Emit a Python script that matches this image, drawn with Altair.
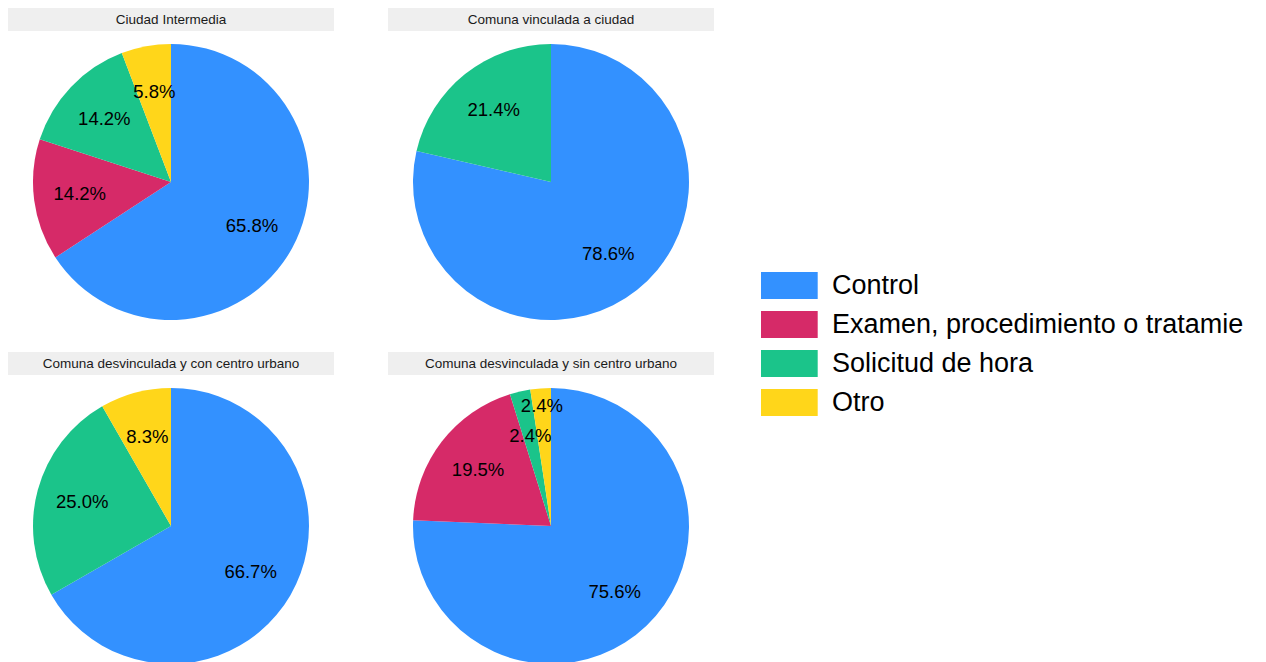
import altair as alt
import pandas as pd

groups = ["Ciudad Intermedia", "Comuna vinculada a ciudad",
          "Comuna desvinculada y con centro urbano", "Comuna desvinculada y sin centro urbano"]
categories = ["Control", "Examen, procedimiento o tratamie", "Solicitud de hora", "Otro"]
colors = ["#3391FF", "#D62A68", "#1BC48A", "#FFD61A"]

ciudad_intermedia = [65.8, 14.2, 14.2, 5.8]
comuna_vinculada = [78.6, 0.0, 21.4, 0.0]
desv_con_centro = [66.7, 0.0, 25.0, 8.3]
desv_sin_centro = [75.6, 19.5, 2.4, 2.4]

series = [ciudad_intermedia, comuna_vinculada, desv_con_centro, desv_sin_centro]
rows = []
for g, vals in zip(groups, series):
    for i, (c, v) in enumerate(zip(categories, vals)):
        if v > 0:
            rows.append({"grupo": g, "categoria": c, "valor": v, "orden": i,
                         "etiqueta": f"{v:.1f}%"})
df = pd.DataFrame(rows)
titles = pd.DataFrame({"grupo": groups})

W, H = 326, 330
CX, CY = 163, 174
R = 138

color = alt.Color("categoria:N", scale=alt.Scale(domain=categories, range=colors),
                  sort=categories,
                  legend=alt.Legend(title=None, orient="none", legendX=753, legendY=264,
                                    symbolType="M-1,-1H3.2V1H-1Z", symbolSize=729,
                                    symbolStrokeWidth=0, symbolOpacity=1,
                                    labelFontSize=27, labelFont="Liberation Sans",
                                    labelColor="#000000", labelOffset=44, rowPadding=11,
                                    labelLimit=600, padding=0))


def panel(name):
    strip = alt.Chart(titles).transform_filter(alt.datum.grupo == name).mark_rect(
        color="#EFEFEF").encode(x=alt.value(0), x2=alt.value(W), y=alt.value(0), y2=alt.value(23))
    ttl = alt.Chart(titles).transform_filter(alt.datum.grupo == name).mark_text(
        font="Liberation Sans", fontSize=13.5, color="#1A1A1A", baseline="middle").encode(
        x=alt.value(CX), y=alt.value(12), text="grupo:N")
    base = alt.Chart(df).transform_filter(alt.datum.grupo == name)
    arc = base.mark_arc(outerRadius=R).encode(
        theta=alt.Theta("valor:Q", stack=True),
        color=color,
        order=alt.Order("orden:Q"),
        x=alt.value(CX), y=alt.value(CY))
    txt = base.mark_text(radius=92, font="Liberation Sans", fontSize=18.5, color="#000000").encode(
        theta=alt.Theta("valor:Q", stack=True),
        order=alt.Order("orden:Q"),
        text="etiqueta:N",
        x=alt.value(CX), y=alt.value(CY),
        opacity=alt.condition((alt.datum.categoria == "Otro") & (alt.datum.valor < 3),
                              alt.value(0), alt.value(1)))
    txt2 = base.mark_text(radius=120, font="Liberation Sans", fontSize=18.5, color="#000000").encode(
        theta=alt.Theta("valor:Q", stack=True),
        order=alt.Order("orden:Q"),
        text="etiqueta:N",
        x=alt.value(CX), y=alt.value(CY),
        opacity=alt.condition((alt.datum.categoria == "Otro") & (alt.datum.valor < 3),
                              alt.value(1), alt.value(0)))
    return alt.layer(strip, ttl, arc, txt, txt2).properties(width=W, height=H)


row1 = alt.hconcat(panel(groups[0]), panel(groups[1]), spacing=54)
row2 = alt.hconcat(panel(groups[2]), panel(groups[3]), spacing=54)
chart = alt.vconcat(row1, row2, spacing=14).properties(
    padding=0, background="white").configure_view(stroke=None)

chart.save("out.html", embed_options={"renderer": "svg", "actions": False})
